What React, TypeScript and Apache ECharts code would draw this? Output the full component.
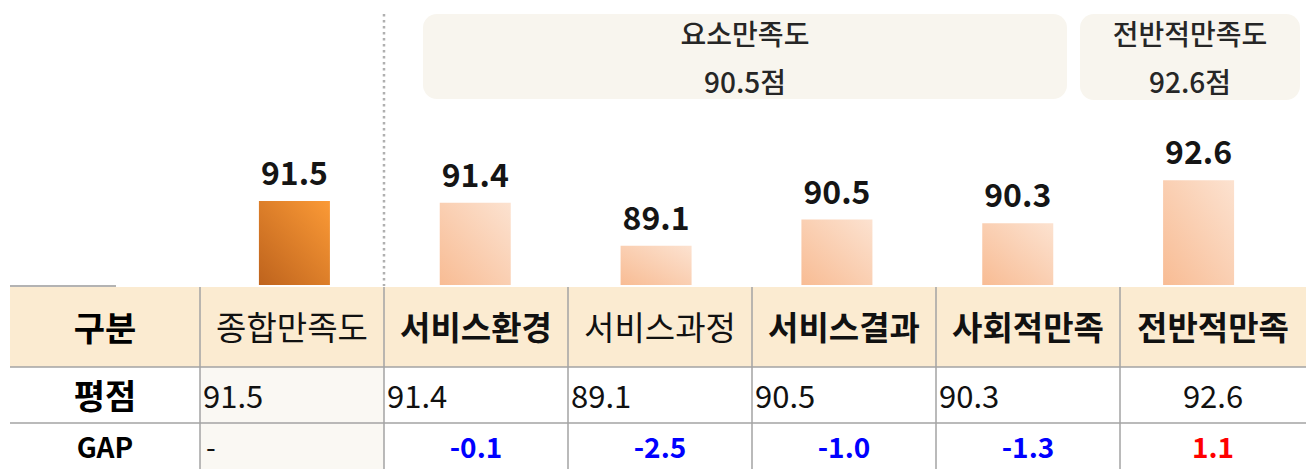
import React, { useEffect, useRef } from "react";
import * as echarts from "echarts";

const categories = ["종합만족도", "서비스환경", "서비스과정", "서비스결과", "사회적만족", "전반적만족"];
const scores = [91.5, 91.4, 89.1, 90.5, 90.3, 92.6];
const scoreTexts = ["91.5", "91.4", "89.1", "90.5", "90.3", "92.6"];
const gapTexts = ["-", "-0.1", "-2.5", "-1.0", "-1.3", "1.1"];
const headerBold = [false, true, false, true, true, true];
const rowLabels = ["구분", "평점", "GAP"];
const groupNames = ["요소만족도", "전반적만족도"];
const groupScores = ["90.5점", "92.6점"];

const FONT = "'Noto Sans CJK KR', 'Noto Sans', sans-serif";

export default function App() {
  const ref = useRef<HTMLDivElement>(null);
  useEffect(() => {
    if (!ref.current) return;
    const chart = echarts.init(ref.current, null, { renderer: "svg" });

    const tableLeft = 10;
    const tableRight = 1306;
    const firstColRight = 200;
    const colW = 184;
    const rowTop = 287;
    const rowLines = [367, 423];
    const tableBottom = 469;
    const colLeft = (i: number) => firstColRight + colW * i;
    const colRight = (i: number) => (i === categories.length - 1 ? tableRight : colLeft(i + 1));
    const colCenter = (i: number) => (colLeft(i) + colRight(i)) / 2;
    const rowCenters = [326, 394, 446];

    const g: any[] = [];
    // group boxes
    const boxes = [
      { x: 423, y: 14, w: 644, h: 85 },
      { x: 1080, y: 14, w: 220, h: 86 },
    ];
    boxes.forEach((b, i) => {
      g.push({ type: "rect", shape: { x: b.x, y: b.y, width: b.w, height: b.h, r: 14 }, style: { fill: "#F8F5EE" }, z: 1 });
      g.push({
        type: "text", x: b.x + b.w / 2, y: 33, z: 2,
        style: { text: groupNames[i], fontSize: 28, fontFamily: FONT, fontWeight: 500, fill: "#262626", align: "center", verticalAlign: "middle", textAlign: "center", textVerticalAlign: "middle" },
      });
      g.push({
        type: "text", x: b.x + b.w / 2, y: 81, z: 2,
        style: { text: groupScores[i], fontSize: 28, fontFamily: FONT, fontWeight: 500, fill: "#262626", align: "center", verticalAlign: "middle", textAlign: "center", textVerticalAlign: "middle" },
      });
    });
    // dotted separator
    g.push({ type: "line", shape: { x1: 384, y1: 14, x2: 384, y2: 286 }, style: { stroke: "#B0B0B0", lineWidth: 2.5, lineDash: [2.5, 3.5] }, z: 1 });
    // short axis remnant
    g.push({ type: "line", shape: { x1: 10, y1: 286, x2: 116, y2: 286 }, style: { stroke: "#9a9a9a", lineWidth: 1.5 }, z: 1 });

    // table header background
    g.push({ type: "rect", shape: { x: tableLeft, y: rowTop, width: tableRight - tableLeft, height: rowLines[0] - rowTop }, style: { fill: "#FBEBD1" }, z: 1 });
    // tinted first data column
    g.push({ type: "rect", shape: { x: colLeft(0), y: rowLines[0], width: colW, height: tableBottom - rowLines[0] }, style: { fill: "#FAF8F3" }, z: 1 });
    // horizontal lines
    rowLines.forEach((y) => {
      g.push({ type: "line", shape: { x1: tableLeft, y1: y, x2: tableRight, y2: y }, style: { stroke: "#A3A3A3", lineWidth: 1.5 }, z: 3 });
    });
    // vertical lines
    categories.forEach((_, i) => {
      const x = colLeft(i);
      g.push({ type: "line", shape: { x1: x, y1: rowTop, x2: x, y2: tableBottom }, style: { stroke: "#A3A3A3", lineWidth: 1.5 }, z: 3 });
    });
    // row labels
    rowLabels.forEach((t, r) => {
      g.push({
        type: "text", x: 105, y: rowCenters[r], z: 4,
        style: { text: t, fontSize: r === 2 ? 28 : 34, fontFamily: FONT, fontWeight: "bold", fill: "#000", align: "center", verticalAlign: "middle", textAlign: "center", textVerticalAlign: "middle" },
      });
    });
    categories.forEach((c, i) => {
      g.push({
        type: "text", x: colCenter(i), y: rowCenters[0], z: 4,
        style: { text: c, fontSize: 33, fontFamily: FONT, fontWeight: headerBold[i] ? "bold" : "normal", fill: "#111", align: "center", verticalAlign: "middle", textAlign: "center", textVerticalAlign: "middle" },
      });
      const last = i === categories.length - 1;
      g.push({
        type: "text", x: last ? colCenter(i) : colLeft(i) + 3, y: rowCenters[1], z: 4,
        style: { text: scoreTexts[i], fontSize: 31, fontFamily: FONT, fontWeight: "normal", fill: "#111", align: last ? "center" : "left", verticalAlign: "middle", textAlign: last ? "center" : "left", textVerticalAlign: "middle" },
      });
      const dash = gapTexts[i] === "-";
      const neg = gapTexts[i].startsWith("-") && !dash;
      g.push({
        type: "text", x: dash ? colLeft(i) + 6 : colCenter(i), y: rowCenters[2], z: 4,
        style: { text: gapTexts[i], fontSize: 28, fontFamily: FONT, fontWeight: dash ? "normal" : "bold", fill: dash ? "#111" : neg ? "#0000FF" : "#FF0000", align: dash ? "left" : "center", verticalAlign: "middle", textAlign: dash ? "left" : "center", textVerticalAlign: "middle" },
      });
    });

    const darkGrad = new echarts.graphic.LinearGradient(1, 0, 0, 1, [
      { offset: 0, color: "#FB9A36" },
      { offset: 1, color: "#BE631D" },
    ]);
    const lightGrad = new echarts.graphic.LinearGradient(1, 0, 0, 1, [
      { offset: 0, color: "#FCE2D0" },
      { offset: 1, color: "#F8BC94" },
    ]);

    chart.setOption({
      animation: false,
      grid: { left: 204, top: 42, width: 1085, height: 243 },
      xAxis: {
        type: "category",
        data: categories,
        axisLine: { show: false },
        axisTick: { show: false },
        axisLabel: { show: false },
      },
      yAxis: {
        type: "value",
        min: 87,
        max: 100,
        show: false,
        splitLine: { show: false },
      },
      series: [
        {
          type: "bar",
          barWidth: 71,
          data: scores.map((v, i) => ({ value: v, itemStyle: { color: i === 0 ? darkGrad : lightGrad } })),
          label: {
            show: true,
            position: "top",
            distance: 14,
            fontSize: 32,
            fontWeight: "bold",
            fontFamily: FONT,
            color: "#151515",
            formatter: (p: any) => scoreTexts[p.dataIndex],
          },
          z: 2,
        },
      ],
      graphic: g,
    });
    return () => chart.dispose();
  }, []);
  return <div ref={ref} style={{ position: "absolute", left: 0, top: 0, width: 1309, height: 469 }} />;
}
